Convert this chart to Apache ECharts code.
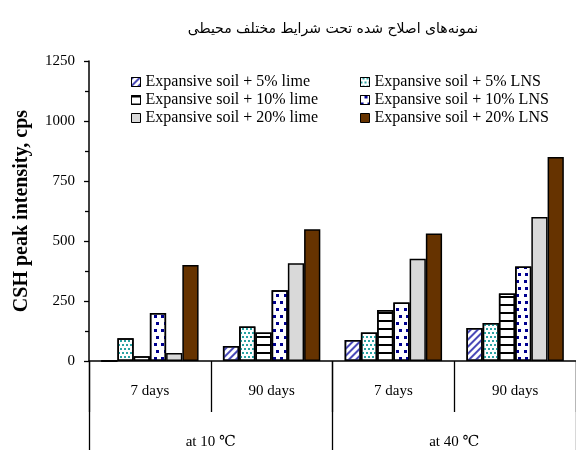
<!DOCTYPE html>
<html>
<head>
<meta charset="utf-8">
<script src="https://cdn.jsdelivr.net/npm/echarts@6/dist/echarts.min.js"></script>
<style>
  html, body { margin: 0; padding: 0; background: #fff; }
  #chart { width: 576px; height: 450px; }
</style>
</head>
<body>
<div id="chart"></div>
<script>
// Curing age groups (inner axis level) and curing temperature (outer level)
const categories = ['7 days', '90 days', '7 days', '90 days'];
const temperatures = ['at 10 ℃', 'at 40 ℃'];

// CSH peak intensity (cps) for each mix
const lime5  = [0, 63, 87, 137];
const lns5   = [95, 144, 119, 158];
const lime10 = [20, 119, 213, 281];
const lns10  = [200, 295, 244, 394];
const lime20 = [33, 407, 426, 600];
const lns20  = [400, 549, 531, 850];

const seriesNames = [
  'Expansive soil + 5% lime',
  'Expansive soil + 5% LNS',
  'Expansive soil + 10% lime',
  'Expansive soil + 10% LNS',
  'Expansive soil + 20% lime',
  'Expansive soil + 20% LNS'
];

const serif = '"Liberation Serif", "DejaVu Serif", serif';

// fill styles: hatched / dotted / lined / solid
const styles = [
  { color: '#fff', decal: { symbol: 'rect', color: '#4a4ab8', dashArrayX: [1, 0], dashArrayY: [2, 3], rotation: -Math.PI / 4 } },
  { color: '#fff', decal: { symbol: 'rect', color: '#2aa3a3', dashArrayX: [[2, 2], [0, 2, 2, 0]], dashArrayY: [2, 2], rotation: 0 } },
  { color: '#fff', decal: { symbol: 'rect', color: '#000', dashArrayX: [1, 0], dashArrayY: [1.5, 5.5], rotation: 0 } },
  { color: '#fff', decal: { symbol: 'rect', color: '#00008f', dashArrayX: [[3, 4], [0, 3.5, 3, 0.5]], dashArrayY: [3, 3.5], rotation: 0 } },
  { color: '#d9d9d9' },
  { color: '#663300' }
];

const dataSets = [lime5, lns5, lime10, lns10, lime20, lns20];

const series = dataSets.map((d, i) => ({
  name: seriesNames[i],
  type: 'bar',
  data: d,
  barGap: '0%',
  barCategoryGap: '20%',
  itemStyle: Object.assign({ borderColor: '#000', borderWidth: 1.5 }, styles[i])
}));

const chart = echarts.init(document.getElementById('chart'), null, { renderer: 'canvas' });

const legendBase = {
  orient: 'vertical',
  icon: 'rect',
  itemWidth: 9,
  itemHeight: 9,
  itemGap: 2,
  textStyle: { fontFamily: serif, fontSize: 16, color: '#000' },
  itemStyle: { borderColor: '#000', borderWidth: 1 }
};

chart.setOption({
  animation: false,
  aria: { enabled: false, decal: { show: true } },
  title: {
    text: 'نمونه‌های اصلاح شده تحت شرایط مختلف محیطی',
    left: 328,
    top: 17,
    textAlign: 'center',
    textStyle: { fontFamily: '"DejaVu Serif", "DejaVu Sans", serif', fontSize: 14, fontWeight: 'normal', color: '#000' }
  },
  legend: [
    Object.assign({}, legendBase, { left: 126, top: 69, data: [seriesNames[0], seriesNames[2], seriesNames[4]] }),
    Object.assign({}, legendBase, { left: 355, top: 69, data: [seriesNames[1], seriesNames[3], seriesNames[5]] })
  ],
  grid: { left: 89, right: 0, top: 61, bottom: 88, containLabel: false },
  xAxis: [
    {
      type: 'category',
      data: categories,
      position: 'bottom',
      axisLine: { show: true, lineStyle: { color: '#000', width: 1.5 } },
      axisTick: { show: true, interval: 0, length: 51, lineStyle: { color: '#000', width: 1.3 } },
      axisLabel: { interval: 0, margin: 23, fontFamily: serif, fontSize: 15, color: '#000' },
      splitLine: { show: false }
    },
    {
      type: 'category',
      data: temperatures,
      position: 'bottom',
      offset: 0,
      axisLine: { show: false },
      axisTick: { show: true, interval: 0, length: 92, lineStyle: { color: '#000', width: 1.3 } },
      axisLabel: { interval: 0, margin: 74, fontFamily: serif, fontSize: 15, color: '#000' },
      splitLine: { show: false }
    }
  ],
  yAxis: {
    type: 'value',
    min: 0,
    max: 1250,
    interval: 250,
    name: 'CSH peak intensity, cps',
    nameLocation: 'middle',
    nameGap: 57,
    nameRotate: 90,
    nameTextStyle: { fontFamily: serif, fontSize: 20, fontWeight: 'bold', color: '#000' },
    axisLine: { show: true, lineStyle: { color: '#000', width: 1.5 } },
    axisTick: { show: true, length: 5, lineStyle: { color: '#000', width: 1.3 } },
    minorTick: { show: true, splitNumber: 2, length: 4, lineStyle: { color: '#000', width: 1.3 } },
    axisLabel: { margin: 14, fontFamily: serif, fontSize: 15, color: '#000', formatter: v => String(v) },
    splitLine: { show: false }
  },
  series: series
});
</script>
</body>
</html>
